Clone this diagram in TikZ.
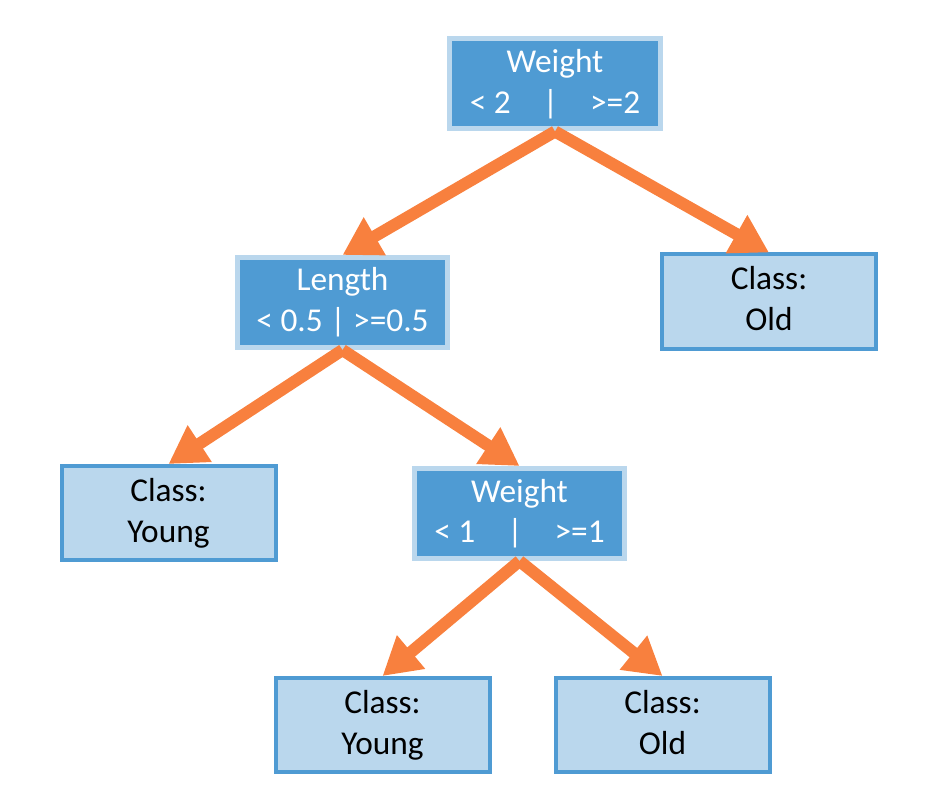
\documentclass[tikz,border=0pt]{standalone}
\usepackage{fontspec}
\setmainfont{Carlito}
\usepackage{xcolor}
\usetikzlibrary{arrows.meta}

\definecolor{splitblue}{HTML}{4F9BD3}
\definecolor{leafblue}{HTML}{BAD7ED}
\definecolor{edgeorange}{HTML}{F8803E}

\tikzset{
    split/.style={rectangle, fill=splitblue, draw=leafblue, line width=3.75pt,
        minimum width=158pt, minimum height=67.5pt, inner sep=0pt,
        align=center, text=white, font=\fontsize{25}{30.5}\selectfont},
    leaf/.style={rectangle, fill=leafblue, draw=splitblue, line width=3pt,
        minimum width=160.5pt, minimum height=70.5pt, inner sep=0pt,
        align=center, text=black, font=\fontsize{25}{30.5}\selectfont,
        execute at end node={\vphantom{g}}},
    edge/.style={draw=edgeorange, line width=9pt,
        -{Triangle[width=31pt,length=28pt]}}
}

\begin{document}
\begin{tikzpicture}[x=0.75pt,y=-0.75pt]
        \useasboundingbox (0,0) rectangle (937,805);
        % splits
        \node (root) [split] at (555,84)
            {Weight\\ < 2\hspace{24pt}|\hspace{24pt}>=2};
        \node (length) [split] at (342.5,302.5)
            {Length\\ < 0.5 | >=0.5};
        \node (weight) [split] at (519.5,513.5)
            {Weight\\ < 1\hspace{24pt}|\hspace{24pt}>=1};
        % leaves
        \node (oldtop) [leaf] at (769,301.5) {Class:\\ Old};
        \node (youngleft) [leaf] at (168.5,513) {Class:\\ Young};
        \node (youngbottom) [leaf] at (382.5,725) {Class:\\ Young};
        \node (oldbottom) [leaf] at (662.5,725) {Class:\\ Old};
        % edges
        \draw [edge] (root.south) -- (length.north);
        \draw [edge] (root.south) -- (oldtop.north);
        \draw [edge] (length.south) -- (youngleft.north);
        \draw [edge] (length.south) -- (weight.north);
        \draw [edge] (weight.south) -- (youngbottom.north);
        \draw [edge] (weight.south) -- (oldbottom.north);
    \end{tikzpicture}
\end{document}
